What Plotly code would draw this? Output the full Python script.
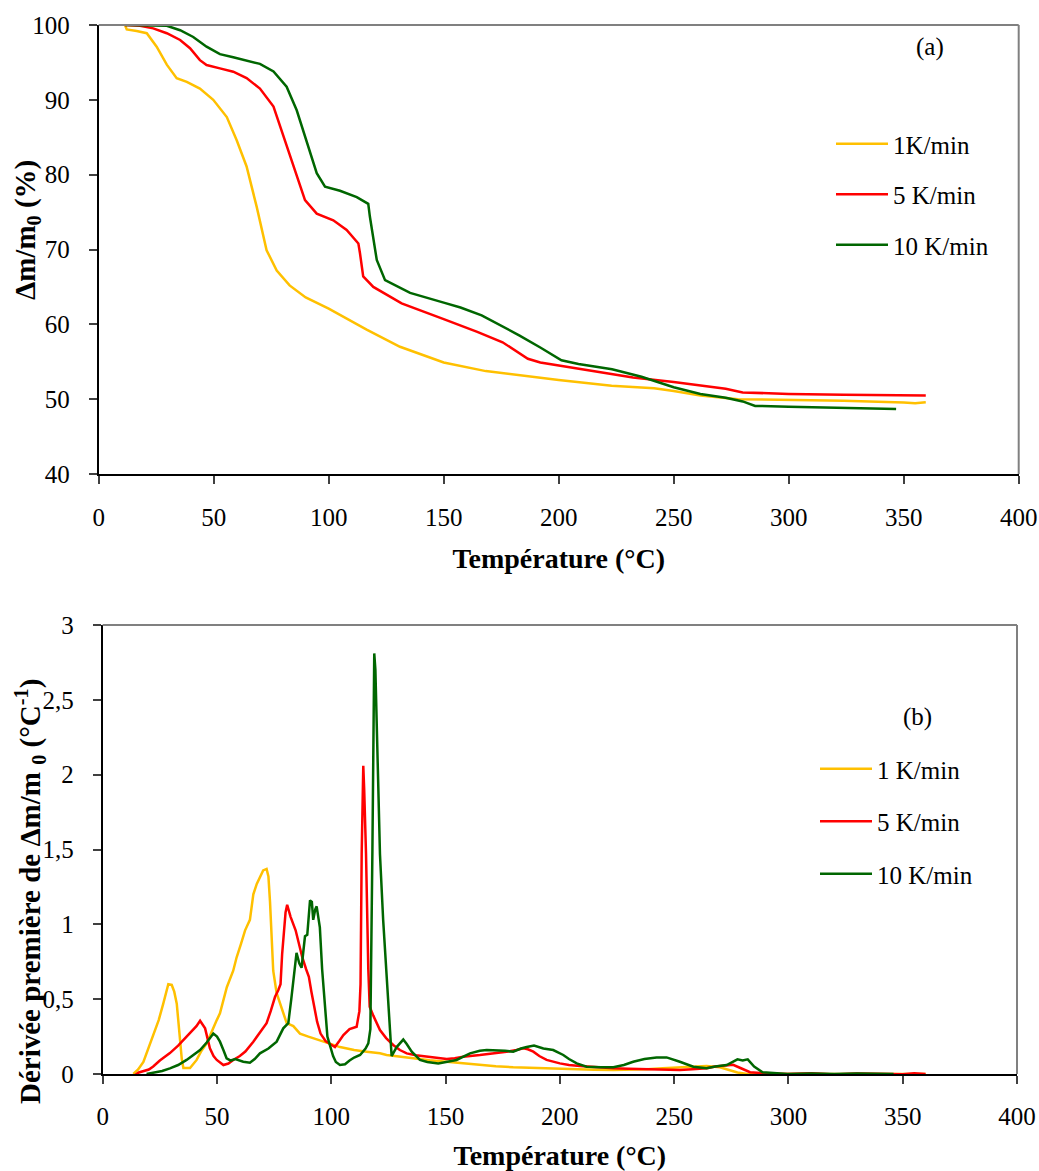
import plotly.graph_objects as go

W, H = 1039, 1171
FONT = "Liberation Serif, Times New Roman, serif"

# ---------------- data: TG curves (a) ----------------
tg_1_T = [11.4, 12.2, 16.5, 20.9, 25.2, 29.6, 33.9, 38.3, 44.0, 49.8, 55.7, 60.0, 64.3, 68.7, 73.0,
          77.4, 83.0, 90.0, 100, 116.5, 131, 150, 168.3, 186.6, 200, 223, 241.5, 250, 261.6, 278,
          300, 323.9, 350, 355, 359.6]
tg_1_m = [100, 99.4, 99.2, 98.9, 97.1, 94.7, 92.9, 92.4, 91.5, 90.0, 87.7, 84.6, 81.1, 75.7, 69.9,
          67.2, 65.2, 63.6, 62.1, 59.3, 57.0, 54.9, 53.75, 53.0, 52.55, 51.8, 51.45, 51.1, 50.5, 50.0,
          49.9, 49.8, 49.55, 49.45, 49.6]

tg_5_T = [11.4, 18, 23.7, 29.6, 35.4, 39.7, 44, 46.9, 52.7, 58.5, 64.3, 70.1, 76, 80.3, 84.6, 89.7,
          94.8, 102, 107.8, 112.9, 113.6, 115, 119.4, 126.7, 131.7, 150, 164.6, 175.6, 186.6, 192,
          200, 214, 232.3, 250, 265.3, 272.6, 280, 300, 323.9, 350, 359.6]
tg_5_m = [100, 99.9, 99.55, 98.9, 98.0, 96.9, 95.3, 94.65, 94.2, 93.76, 92.9, 91.5, 89.1, 85.1, 81.1,
          76.6, 74.8, 73.9, 72.6, 70.8, 69.5, 66.4, 65.0, 63.7, 62.8, 60.7, 59.0, 57.6, 55.4, 54.9,
          54.5, 53.75, 52.9, 52.3, 51.7, 51.4, 50.9, 50.7, 50.6, 50.55, 50.5]

tg_10_T = [11.4, 29.6, 35.4, 41.1, 46.9, 52.7, 58.5, 64.3, 70.1, 76, 81.7, 86.1, 90.4, 94.8, 98.4,
           104.9, 112.2, 117.2, 117.9, 120.9, 124.5, 128.8, 135.4, 150, 157.3, 166.5, 175.6, 183,
           192, 201.2, 208.6, 223.2, 236, 250, 261.6, 272.6, 280, 285.4, 300, 323.9, 346.7]
tg_10_m = [100, 99.9, 99.3, 98.4, 97.1, 96.1, 95.7, 95.3, 94.8, 93.8, 91.75, 88.6, 84.6, 80.2, 78.4,
           77.85, 77.0, 76.1, 74.4, 68.6, 65.9, 65.2, 64.2, 62.9, 62.25, 61.2, 59.7, 58.5, 56.9,
           55.2, 54.7, 54.0, 53.0, 51.6, 50.7, 50.2, 49.7, 49.1, 49.0, 48.8, 48.7]

# ---------------- data: DTG curves (b) ----------------
dtg_1_T = [13.4, 15.5, 17.8, 20, 22.2, 24.5, 26.5, 27.8, 28.7, 30.2, 31.3, 32.4, 33.2, 33.8, 34.6,
           35.3, 38.2, 41.1, 43, 45.5, 48, 49.9, 51.3, 54.3, 57.1, 58.6, 60.5, 62.3, 64.4, 65.9,
           67.4, 68.8, 70.2, 71.7, 72.5, 73.2, 73.9, 74.6, 76.1, 77.6, 80.5, 83.4, 86.3, 90, 95,
           100, 103.8, 110, 115.5, 121.3, 124.2, 130, 135.9, 143, 150.5, 158, 165, 172, 179.6, 187,
           194.2, 200, 208.8, 215, 223.4, 230, 238, 245, 252.5, 258, 264.2, 270, 273, 277.7, 282,
           290, 310, 330, 350, 360]
dtg_1_v = [0.0, 0.03, 0.08, 0.17, 0.27, 0.36, 0.47, 0.55, 0.6, 0.595, 0.55, 0.47, 0.33, 0.23, 0.1,
           0.04, 0.04, 0.094, 0.15, 0.205, 0.3, 0.36, 0.405, 0.58, 0.69, 0.78, 0.87, 0.96, 1.03,
           1.2, 1.27, 1.32, 1.36, 1.37, 1.32, 1.15, 0.9, 0.69, 0.54, 0.47, 0.34, 0.32, 0.27, 0.25,
           0.227, 0.2, 0.18, 0.16, 0.149, 0.138, 0.127, 0.115, 0.105, 0.092, 0.082, 0.07, 0.06,
           0.052, 0.045, 0.041, 0.038, 0.035, 0.031, 0.029, 0.027, 0.028, 0.031, 0.038, 0.045,
           0.05, 0.053, 0.045, 0.031, 0.01, 0.0, 0.0, 0.003, 0.0, 0.002, 0.0]

dtg_5_T = [12.9, 15.8, 20.2, 22.1, 25, 29.4, 33, 36.7, 39, 41, 42.6, 44.8, 46.9, 48.5, 49.9, 52.8,
           55, 57.1, 60, 62.4, 65.9, 68.5, 71.7, 73.5, 75.4, 76.8, 77.8, 78.5, 79.2, 80, 80.7, 81.5,
           82.2, 84.4, 86, 87.3, 89, 90.2, 91.3, 92.4, 93.8, 95.3, 97.5, 99.5, 101.6, 103.5, 105.3,
           108, 111.1, 112.3, 112.8, 113.3, 114.0, 114.4, 115.2, 116.2, 116.8, 118.4, 121.3, 124,
           127.1, 130, 133, 137, 141.7, 146, 150.5, 154, 157.7, 165, 170, 176.7, 181, 184, 186,
           188.4, 191, 194.2, 200, 204, 208.8, 215, 223.4, 230, 238, 245, 252.5, 258, 264.2, 268,
           273, 275.8, 279, 283.2, 290, 299.7, 310, 320, 330, 340, 350, 355, 360]
dtg_5_v = [-0.02, 0.01, 0.03, 0.05, 0.09, 0.14, 0.19, 0.25, 0.29, 0.32, 0.356, 0.305, 0.172, 0.12,
           0.094, 0.06, 0.07, 0.094, 0.12, 0.15, 0.216, 0.27, 0.34, 0.42, 0.516, 0.56, 0.6, 0.8,
           0.96, 1.08, 1.13, 1.08, 1.05, 0.96, 0.85, 0.78, 0.7, 0.65, 0.55, 0.45, 0.35, 0.27, 0.22,
           0.2, 0.18, 0.22, 0.26, 0.3, 0.316, 0.42, 0.6, 1.47, 2.06, 1.9, 1.47, 0.7, 0.45, 0.39,
           0.294, 0.24, 0.194, 0.16, 0.138, 0.125, 0.116, 0.105, 0.1, 0.105, 0.116, 0.127, 0.135,
           0.149, 0.16, 0.172, 0.165, 0.149, 0.12, 0.094, 0.071, 0.06, 0.053, 0.045, 0.038, 0.035,
           0.031, 0.03, 0.027, 0.032, 0.038, 0.05, 0.06, 0.061, 0.04, 0.012, 0.004, 0.0, 0.005,
           -0.003, 0.004, 0.0, -0.002, 0.005, 0.0]

dtg_10_T = [19.2, 23, 26, 29.4, 33, 36.7, 40, 42.6, 45.5, 48.4, 50, 51.3, 52.8, 54.2, 56, 58, 61.5,
            64.4, 66.5, 68.8, 72.5, 76.1, 79, 81.2, 82.5, 83.5, 84.8, 86, 87, 88.5, 89.5, 90.7,
            91.5, 92.1, 93.0, 93.6, 94.3, 95, 96, 97.2, 98.3, 100.8, 102, 103.8, 106, 108, 110,
            112.6, 115, 116.2, 117.1, 118.0, 118.8, 119.3, 119.9, 121.3, 122.7, 125, 126.4, 128.6,
            131.5, 133, 135.2, 138.8, 142, 146.8, 150, 154.8, 160.7, 165, 168, 172.4, 176, 179.6,
            183, 185.5, 188.7, 192.8, 195, 197.1, 201.5, 204, 207.4, 211.7, 218, 223.4, 228, 232.1,
            237, 242.3, 246.7, 249, 252.5, 258.4, 264.2, 268, 273, 277.7, 280, 282.2, 285, 288.7,
            295, 299.7, 310, 320, 330, 340, 346]
dtg_10_v = [0.0, 0.01, 0.02, 0.038, 0.06, 0.094, 0.13, 0.16, 0.21, 0.27, 0.25, 0.216, 0.16, 0.105,
            0.09, 0.1, 0.082, 0.075, 0.1, 0.138, 0.17, 0.216, 0.305, 0.34, 0.5, 0.65, 0.81, 0.74,
            0.71, 0.92, 0.93, 1.16, 1.15, 1.03, 1.10, 1.12, 1.05, 0.98, 0.7, 0.45, 0.25, 0.12, 0.08,
            0.06, 0.065, 0.09, 0.11, 0.127, 0.17, 0.205, 0.3, 1.5, 2.81, 2.7, 2.36, 1.47, 1.03, 0.47,
            0.12, 0.18, 0.23, 0.2, 0.149, 0.094, 0.08, 0.071, 0.08, 0.094, 0.138, 0.155, 0.16, 0.16,
            0.155, 0.149, 0.17, 0.18, 0.19, 0.17, 0.165, 0.16, 0.127, 0.1, 0.071, 0.049, 0.045,
            0.045, 0.06, 0.082, 0.1, 0.111, 0.111, 0.1, 0.082, 0.049, 0.038, 0.05, 0.06, 0.098,
            0.09, 0.098, 0.05, 0.012, 0.003, 0.0, 0.004, 0.0, 0.003, -0.002, 0.0]

labels_a = ["1K/min", "5 K/min", "10 K/min"]
labels_b = ["1 K/min", "5 K/min", "10 K/min"]
colors = ["#FFC000", "#FF0000", "#006600"]

fig = go.Figure()

tg = [(tg_1_T, tg_1_m), (tg_5_T, tg_5_m), (tg_10_T, tg_10_m)]
dtg = [(dtg_1_T, dtg_1_v), (dtg_5_T, dtg_5_v), (dtg_10_T, dtg_10_v)]

for i, (x, y) in enumerate(tg):
    fig.add_trace(go.Scatter(x=x, y=y, mode="lines", name=labels_a[i],
                             line=dict(color=colors[i], width=2.5),
                             xaxis="x", yaxis="y", legend="legend",
                             legendgroup="a%d" % i))
for i, (x, y) in enumerate(dtg):
    fig.add_trace(go.Scatter(x=x, y=y, mode="lines", name=labels_b[i],
                             line=dict(color=colors[i], width=2.5),
                             xaxis="x2", yaxis="y2", legend="legend2",
                             legendgroup="b%d" % i))

def px_x(p):
    return p / W

def px_y(p):
    return 1 - p / H

tickfont = dict(family=FONT, size=25, color="black")
titlefont = dict(family=FONT, size=28, color="black", weight="bold")

common_x = dict(range=[0, 400], dtick=50, tick0=0, showgrid=False, zeroline=False,
                showline=True, linecolor="black", linewidth=2, ticks="outside", ticklen=8,
                tickwidth=1.5, tickcolor="#404040", tickfont=tickfont)
common_y = dict(showgrid=False, zeroline=False, showline=True, linecolor="black", linewidth=2,
                ticks="outside", ticklen=8, tickwidth=1.5, tickcolor="#404040",
                tickfont=tickfont, ticklabelstandoff=14)

fig.update_layout(
    width=W, height=H,
    margin=dict(l=0, r=0, t=0, b=0),
    paper_bgcolor="white", plot_bgcolor="white",
    template="none",
    separators=", ",
    font=dict(family=FONT, size=25, color="black"),
    xaxis=dict(common_x, domain=[px_x(98.7), px_x(1018.7)], anchor="y", ticklabelstandoff=12,
               title=dict(text="Température (°C)", font=titlefont, standoff=18)),
    yaxis=dict(common_y, domain=[px_y(474), px_y(25)], anchor="x", range=[40, 100], dtick=10),
    xaxis2=dict(common_x, domain=[px_x(102.7), px_x(1017)], anchor="y2", ticklabelstandoff=11,
                title=dict(text="Température (°C)", font=titlefont, standoff=18)),
    yaxis2=dict(common_y, domain=[px_y(1074), px_y(625)], anchor="x2", range=[0, 3], dtick=0.5),
    legend=dict(x=px_x(831), y=px_y(121), xanchor="left", yanchor="top",
                font=dict(family=FONT, size=25), bgcolor="rgba(0,0,0,0)",
                tracegroupgap=15, itemwidth=52),
    legend2=dict(x=px_x(815), y=px_y(746), xanchor="left", yanchor="top",
                 font=dict(family=FONT, size=25), bgcolor="rgba(0,0,0,0)",
                 tracegroupgap=17, itemwidth=52),
    showlegend=True,
)

# gray top/right frame borders
for xr, yr in (("x domain", "y domain"), ("x2 domain", "y2 domain")):
    fig.add_shape(type="line", xref=xr, yref=yr, x0=0, x1=1, y0=1, y1=1,
                  line=dict(color="#808080", width=2))
    fig.add_shape(type="line", xref=xr, yref=yr, x0=1, x1=1, y0=0, y1=1,
                  line=dict(color="#808080", width=2))

fig.add_annotation(text="(a)", xref="paper", yref="paper", x=px_x(930), y=px_y(47),
                   xanchor="center", yanchor="middle",
                   showarrow=False, font=dict(family=FONT, size=25))
fig.add_annotation(text="(b)", xref="paper", yref="paper", x=px_x(917), y=px_y(717),
                   xanchor="center", yanchor="middle",
                   showarrow=False, font=dict(family=FONT, size=25))

fig.add_annotation(text="<b>Δm/m<sub>0</sub> (%)</b>", xref="paper", yref="paper",
                   x=px_x(27), y=px_y(230), textangle=-90, showarrow=False,
                   xanchor="center", yanchor="middle",
                   font=dict(family=FONT, size=29))
fig.add_annotation(text="<b>Dérivée première de Δm/m <sub>0</sub> (°C<sup>-1</sup>)</b>",
                   xref="paper", yref="paper", x=px_x(30), y=px_y(892), textangle=-90,
                   xanchor="center", yanchor="middle",
                   showarrow=False, font=dict(family=FONT, size=29))

fig.write_html("out.html", config={"displayModeBar": False},
               post_script="document.body.style.margin='0px';document.body.style.overflow='hidden';")
